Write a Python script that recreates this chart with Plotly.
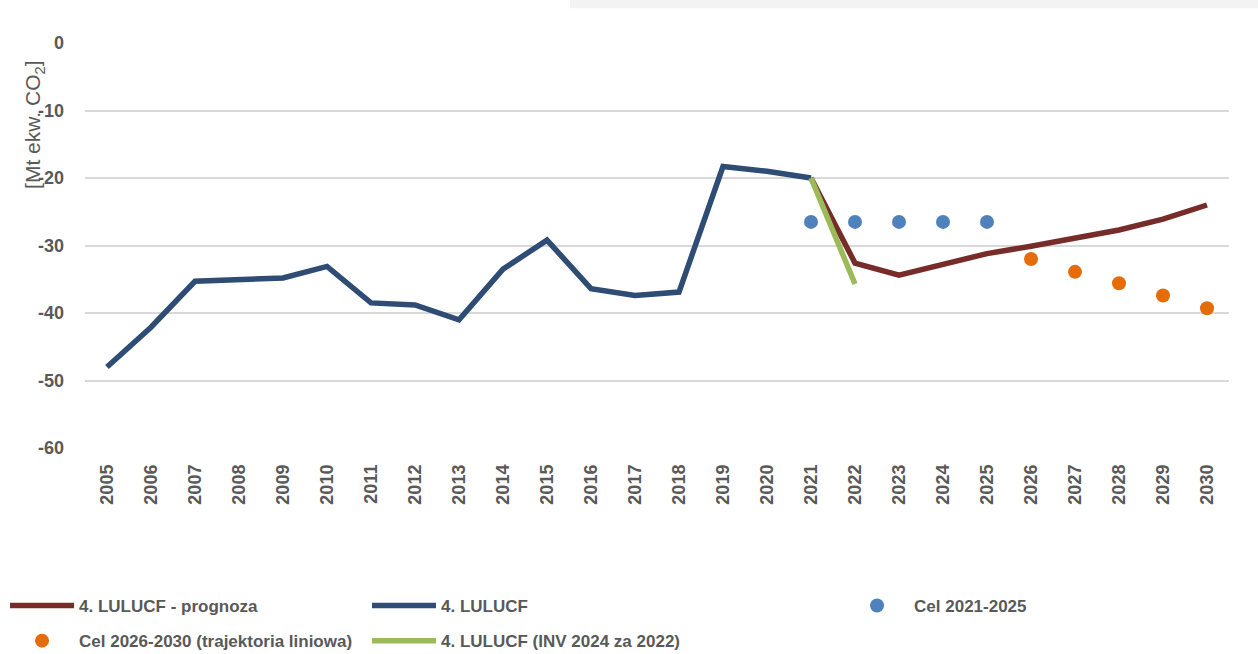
import plotly.graph_objects as go

years = [str(y) for y in range(2005, 2031)]

lulucf_years = [str(y) for y in range(2005, 2022)]
lulucf = [-48.0, -42.1, -35.3, -35.0, -34.8, -33.1, -38.5, -38.8, -41.0, -33.5,
          -29.2, -36.4, -37.4, -36.9, -18.3, -19.0, -20.0]

prognoza_years = [str(y) for y in range(2021, 2031)]
prognoza = [-20.0, -32.6, -34.4, -32.8, -31.2, -30.1, -28.9, -27.7, -26.1, -24.0]

inv_years = ["2021", "2022"]
inv = [-20.0, -35.7]

cel1_years = ["2021", "2022", "2023", "2024", "2025"]
cel1 = [-26.5, -26.5, -26.5, -26.5, -26.5]

cel2_years = ["2026", "2027", "2028", "2029", "2030"]
cel2 = [-32.0, -33.9, -35.6, -37.4, -39.3]

y_ticks = [0, -10, -20, -30, -40, -50, -60]
y_tick_labels = ["0", "-10", "-20", "-30", "-40", "-50", "-60"]

GRAY = "#595959"
FONT = "Liberation Sans, Arial, sans-serif"

leg_common = dict(orientation="v", xanchor="left", yanchor="top", y=-0.3457,
                  font=dict(family=FONT, size=17, color=GRAY, weight="bold"),
                  itemwidth=64, tracegroupgap=10, bgcolor="rgba(0,0,0,0)")

fig = go.Figure()
fig.add_trace(go.Scatter(x=prognoza_years, y=prognoza, mode="lines",
                         name="4. LULUCF - prognoza", legend="legend", legendgroup="a",
                         line=dict(color="#772C2A", width=5.5)))
fig.add_trace(go.Scatter(x=lulucf_years, y=lulucf, mode="lines",
                         name="4. LULUCF", legend="legend2", legendgroup="b",
                         line=dict(color="#2E4C74", width=5.5)))
fig.add_trace(go.Scatter(x=cel1_years, y=cel1, mode="markers",
                         name="Cel 2021-2025", legend="legend3", legendgroup="c",
                         marker=dict(color="#4F81BD", size=14)))
fig.add_trace(go.Scatter(x=cel2_years, y=cel2, mode="markers",
                         name="Cel 2026-2030 (trajektoria liniowa)", legend="legend",
                         legendgroup="d",
                         marker=dict(color="#E46C0A", size=14)))
fig.add_trace(go.Scatter(x=inv_years, y=inv, mode="lines",
                         name="4. LULUCF (INV 2024 za 2022)", legend="legend2",
                         legendgroup="e",
                         line=dict(color="#9BBB59", width=5.5)))

fig.update_layout(
    width=1258, height=654,
    margin=dict(l=85, r=29, t=43, b=206, autoexpand=False),
    plot_bgcolor="white", paper_bgcolor="white",
    font=dict(family=FONT, color=GRAY, size=17),
    showlegend=True,
    legend=dict(x=-0.0699, **leg_common),
    legend2=dict(x=0.2465, **leg_common),
    legend3=dict(x=0.660, **leg_common),
    xaxis=dict(type="category", categoryorder="array", categoryarray=years,
               range=[-0.5, 25.5], tickangle=-90, showgrid=False, automargin=False,
               tickfont=dict(family=FONT, size=18, color=GRAY, weight="bold"),
               ticks="", ticklabelstandoff=12, zeroline=False, showline=False),
    yaxis=dict(range=[-60, 0], tickvals=y_ticks, ticktext=y_tick_labels,
               showgrid=True, automargin=False,
               gridcolor="#D9D9D9", gridwidth=2, zeroline=False,
               tickfont=dict(family=FONT, size=18, color=GRAY, weight="bold"),
               ticks="", ticklabelstandoff=20),
    annotations=[dict(text="[Mt ekw. CO<sub>2</sub>]", textangle=-90,
                      xref="paper", yref="paper", x=-0.044, y=0.797,
                      xanchor="center", yanchor="middle", showarrow=False,
                      font=dict(family=FONT, size=21, color=GRAY))],
    shapes=[dict(type="rect", xref="paper", yref="paper", x0=0.424, x1=1.0253,
                 y0=1.086, y1=1.106, fillcolor="#F3F3F3", line=dict(width=0),
                 layer="below")],
)

fig.write_html("out.html", config={"displayModeBar": False},
               post_script="document.body.style.margin='0';document.body.style.overflow='hidden';")
